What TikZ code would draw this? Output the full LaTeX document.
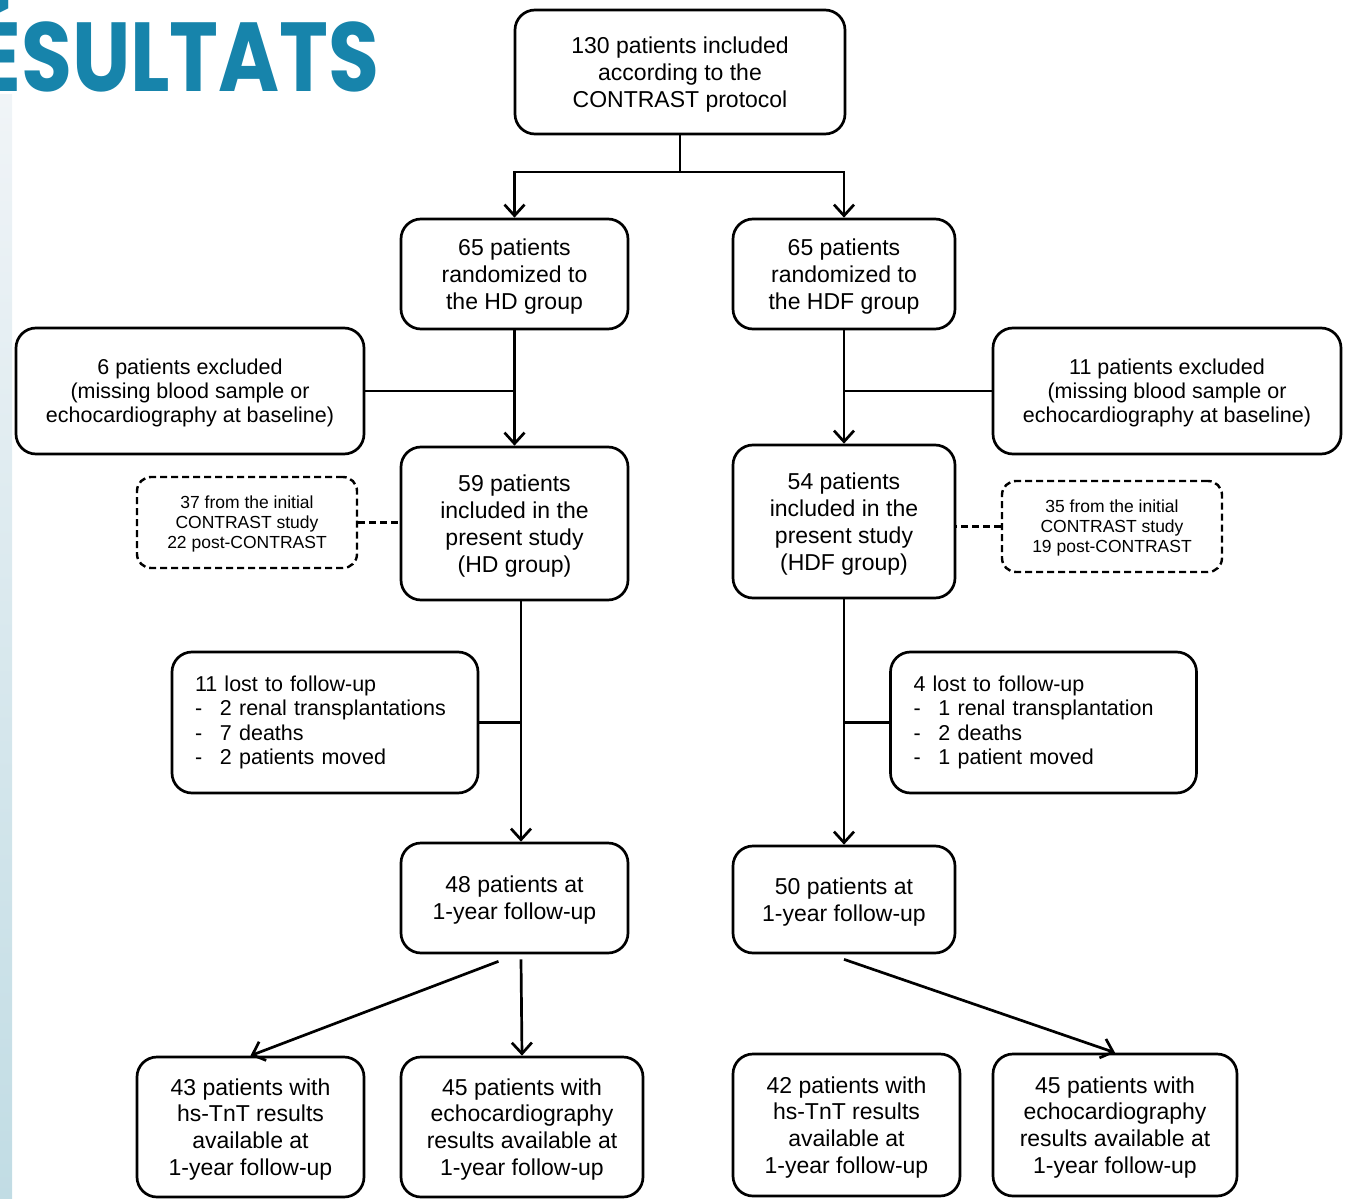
\documentclass[tikz,border=0pt]{standalone}
\usepackage{fontspec}
\setmainfont{Liberation Sans}
\newfontfamily\titlefont{Poppins}
\usepackage{tikz}
\usetikzlibrary{arrows.meta}

\definecolor{titleblue}{RGB}{23,132,171}
\newcommand{\itemdash}{\makebox[25pt][l]{-}}

\tikzset{
  flowbox/.style={draw, rounded corners=20pt, line width=2.7pt, align=center, inner sep=2pt,
    text depth=0pt, font=\fontsize{23}{26.8}\selectfont},
  sidebox/.style={flowbox, font=\fontsize{21.5}{24}\selectfont},
  lostbox/.style={draw, rounded corners=20pt, line width=2.7pt, align=left, text width=260pt,
    inner xsep=23pt, font=\fontsize{21.5}{24.5}\selectfont},
  notebox/.style={draw, dash pattern=on 7pt off 4pt, rounded corners=14pt, line width=2.4pt,
    align=center, text depth=0pt, font=\fontsize{17.5}{20}\selectfont},
  link/.style={line width=2.7pt},
}

\begin{document}
\begin{tikzpicture}[x=1pt, y=-1pt, >={Straight Barb[length=11pt,width=20pt]}]
  \useasboundingbox (0,0) rectangle (1345,1199);
  \shade[top color={rgb,255:red,240;green,244;blue,247}, bottom color={rgb,255:red,193;green,220;blue,228}]
    (0,95) rectangle (12,1199);
  \begin{scope}
    \clip (0,0) rectangle (1345,1199);
    \node[anchor=base east, inner sep=0, text=titleblue, font=\titlefont\bfseries\fontsize{98}{98}\selectfont]
      (title) at (380,92) {\scalebox{0.845}[1]{ÉSULTATS}};
  \end{scope}

  % flow boxes
  \node[flowbox, minimum width=330pt, minimum height=124pt] (top) at (680,72)
    {130 patients included\\according to the\\CONTRAST protocol};
  \node[flowbox, minimum width=227pt, minimum height=110pt] (hd) at (514.5,274)
    {65 patients\\randomized to\\the HD group};
  \node[flowbox, minimum width=222pt, minimum height=110pt] (hdf) at (844,274)
    {65 patients\\randomized to\\the HDF group};
  \node[sidebox, minimum width=348pt, minimum height=126pt] (exclHD) at (190,391)
    {6 patients excluded\\(missing blood sample or\\echocardiography at baseline)};
  \node[sidebox, minimum width=348pt, minimum height=126pt] (exclHDF) at (1167,391)
    {11 patients excluded\\(missing blood sample or\\echocardiography at baseline)};
  \node[flowbox, minimum width=227pt, minimum height=153pt] (studyHD) at (514.5,523.5)
    {59 patients\\included in the\\present study\\(HD group)};
  \node[flowbox, minimum width=222pt, minimum height=153pt] (studyHDF) at (844,521.5)
    {54 patients\\included in the\\present study\\(HDF group)};
  \node[notebox, minimum width=220pt, minimum height=91pt] (originHD) at (247,522.5)
    {37 from the initial\\CONTRAST study\\22 post-CONTRAST};
  \node[notebox, minimum width=220pt, minimum height=91pt] (originHDF) at (1112,526.5)
    {35 from the initial\\CONTRAST study\\19 post-CONTRAST};
  \node[lostbox, minimum height=141pt] (lostHD) at (325,722.5)
    {11 lost to follow-up\\\itemdash 2 renal transplantations\\\itemdash 7 deaths\\\itemdash 2 patients moved};
  \node[lostbox, minimum height=141pt] (lostHDF) at (1043.5,722.5)
    {4 lost to follow-up\\\itemdash 1 renal transplantation\\\itemdash 2 deaths\\\itemdash 1 patient moved};
  \node[flowbox, minimum width=227pt, minimum height=110pt] (yearHD) at (514.5,898)
    {48 patients at\\1-year follow-up};
  \node[flowbox, minimum width=222pt, minimum height=107pt] (yearHDF) at (844,899.5)
    {50 patients at\\1-year follow-up};
  \node[flowbox, minimum width=227pt, minimum height=140pt] (tntHD) at (250.5,1127)
    {43 patients with\\hs-TnT results\\available at\\1-year follow-up};
  \node[flowbox, minimum width=242pt, minimum height=140pt] (echoHD) at (522,1127)
    {45 patients with\\echocardiography\\results available at\\1-year follow-up};
  \node[flowbox, minimum width=227pt, minimum height=142pt] (tntHDF) at (846.5,1125)
    {42 patients with\\hs-TnT results\\available at\\1-year follow-up};
  \node[flowbox, minimum width=244pt, minimum height=142pt] (echoHDF) at (1115,1125)
    {45 patients with\\echocardiography\\results available at\\1-year follow-up};

  % connectors
  \coordinate (split) at (680,172);
  \coordinate (outHD) at ([xshift=6.5pt]studyHD.south);
  \draw[link] (top) -- (split);
  \draw[link, ->] (split) -| (hd);
  \draw[link, ->] (split) -| (hdf);
  \path[link, ->]
    (hd) edge (studyHD)
    (hdf) edge (studyHDF)
    (outHD) edge (outHD |- yearHD.north)
    (studyHDF) edge (yearHDF)
    ([xshift=-16pt,yshift=-7pt]yearHD.south) edge (tntHD.north)
    ([xshift=6.5pt,yshift=-5pt]yearHD.south) edge (echoHD.north)
    ([yshift=-5pt]yearHDF.south) edge (echoHDF.north);
  \draw[link] (exclHD.east) -- (exclHD.east -| hd.south);
  \draw[link] (exclHDF.west) -- (exclHDF.west -| hdf.south);
  \draw[link] (lostHD.east) -- (lostHD.east -| outHD);
  \draw[link] (lostHDF.west) -- (lostHDF.west -| studyHDF.south);
  \draw[link, dash pattern=on 7pt off 4pt] (originHD.east) -- (originHD.east -| studyHD.west);
  \draw[link, dash pattern=on 7pt off 4pt] (originHDF.west) -- (originHDF.west -| studyHDF.east);
\end{tikzpicture}
\end{document}
